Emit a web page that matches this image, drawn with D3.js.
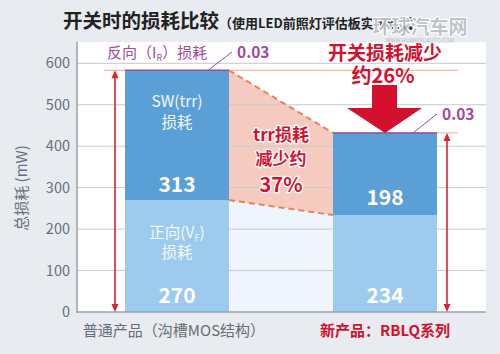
<!DOCTYPE html>
<meta charset="utf-8">
<head>
  <style>
    body { margin: 0; background: #e8ecf0; }
    text { font-family: "Noto Sans CJK SC", sans-serif; }
  </style>
</head>
<body>
<svg width="500" height="354"></svg>
<script src="https://d3js.org/d3.v7.min.js"></script>
<script>
  var products = ["普通产品（沟槽MOS结构）", "新产品：RBLQ系列"];
  var forwardLoss = [270, 234];   // 正向(VF)损耗
  var swLoss = [313, 198];        // SW(trr)损耗
  var reverseLoss = [0.03, 0.03]; // 反向(IR)损耗
  var yTicks = [0, 100, 200, 300, 400, 500, 600];

  var red = "#d4102f", purple = "#a24a9e";

  var svg = d3.select("svg");
  svg.append("rect").attr("width", 500).attr("height", 354).attr("fill", "#e8ecf0");

  var x = d3.scaleBand().domain(products).range([73, 489]).paddingInner(0.5).paddingOuter(0.25);
  var y = d3.scaleLinear().domain([0, 600]).range([312, 63.3]);

  var plotL = 77, plotR = 486, plotT = 42;
  svg.append("rect").attr("x", plotL).attr("y", plotT)
    .attr("width", plotR - plotL).attr("height", y(0) - plotT).attr("fill", "#fff");

  var totals = products.map(function(p, i) { return forwardLoss[i] + swLoss[i] + reverseLoss[i]; });
  var b0 = x(products[0]) + x.bandwidth(), b1 = x(products[1]);

  // shaded regions between bars
  svg.append("path").attr("fill", "#eef5fd")
    .attr("d", d3.line()([[b0, y(forwardLoss[0])], [b1, y(forwardLoss[1])], [b1, y(0)], [b0, y(0)]]));
  svg.append("path").attr("fill", "#f6cbbf")
    .attr("d", d3.line()([[b0, y(totals[0])], [b1, y(totals[1])], [b1, y(forwardLoss[1])], [b0, y(forwardLoss[0])]]));

  // grid
  svg.append("g").selectAll("line").data(yTicks.slice(1)).join("line")
    .attr("x1", plotL).attr("x2", plotR)
    .attr("y1", function(d) { return y(d); }).attr("y2", function(d) { return y(d); })
    .attr("stroke", "#c5cad0").attr("stroke-width", 1);

  // dashed trend lines
  [totals, forwardLoss].forEach(function(s) {
    svg.append("line")
      .attr("x1", b0).attr("y1", y(s[0])).attr("x2", b1).attr("y2", y(s[1]))
      .attr("stroke", "#e8825f").attr("stroke-width", 2).attr("stroke-dasharray", "6,4");
  });

  // reference lines at totals
  svg.append("line").attr("x1", 104).attr("x2", 458).attr("y1", y(totals[0])).attr("y2", y(totals[0]))
    .attr("stroke", "#f0a898").attr("stroke-width", 1);
  svg.append("line").attr("x1", b1).attr("x2", 458).attr("y1", y(totals[1])).attr("y2", y(totals[1]))
    .attr("stroke", "#f0a898").attr("stroke-width", 1);

  // bars
  var bars = svg.append("g");
  products.forEach(function(p, i) {
    bars.append("rect").attr("x", x(p)).attr("width", x.bandwidth())
      .attr("y", y(forwardLoss[i])).attr("height", y(0) - y(forwardLoss[i])).attr("fill", "#9dcbee");
    bars.append("rect").attr("x", x(p)).attr("width", x.bandwidth())
      .attr("y", y(totals[i])).attr("height", y(forwardLoss[i]) - y(totals[i])).attr("fill", "#5a9fd6");
    bars.append("line").attr("x1", x(p)).attr("x2", x(p) + x.bandwidth())
      .attr("y1", y(totals[i])).attr("y2", y(totals[i])).attr("stroke", purple).attr("stroke-width", 1.5);
  });

  // axes
  svg.append("line").attr("x1", plotL).attr("x2", plotL).attr("y1", plotT).attr("y2", y(0) + 1)
    .attr("stroke", "#9aa0a6").attr("stroke-width", 1.5);
  svg.append("line").attr("x1", plotL).attr("x2", plotR).attr("y1", y(0)).attr("y2", y(0))
    .attr("stroke", "#9aa0a6").attr("stroke-width", 1.5);
  svg.append("g").selectAll("text").data(yTicks).join("text")
    .attr("x", 70).attr("y", function(d) { return y(d) + 5; })
    .attr("text-anchor", "end").attr("font-size", 14.5).attr("fill", "#66707a")
    .text(function(d) { return d; });
  svg.append("text").attr("transform", "translate(27,188) rotate(-90)")
    .attr("text-anchor", "middle").attr("font-size", 15).attr("fill", "#66707a").text("总损耗 (mW)");

  // x labels
  svg.append("text").attr("x", x(products[0]) + x.bandwidth() / 2 - 3).attr("y", 336)
    .attr("text-anchor", "middle").attr("font-size", 15).attr("fill", "#666c72").text("普通产品（沟槽MOS结构）");
  svg.append("text").attr("x", x(products[1]) + x.bandwidth() / 2).attr("y", 336)
    .attr("text-anchor", "middle").attr("font-size", 15).attr("font-weight", "bold").attr("fill", red)
    .text("新产品：RBLQ系列");

  // texts inside bars
  function inner(cx, yy, txt, size, bold) {
    return svg.append("text").attr("x", cx).attr("y", yy).attr("text-anchor", "middle")
      .attr("font-size", size).attr("font-weight", bold ? "bold" : "normal")
      .attr("fill", bold ? "#fff" : "#f2f8fd").text(txt);
  }
  var c0 = x(products[0]) + x.bandwidth() / 2, c1 = x(products[1]) + x.bandwidth() / 2;
  inner(c0, 107, "SW(trr)", 15.5);
  inner(c0, 128, "损耗", 15.5);
  inner(c0, 192, swLoss[0], 21, true);
  var vf = inner(c0, 238, "正向(V", 15.5);
  vf.append("tspan").attr("font-size", 9).attr("dy", 3).text("F");
  vf.append("tspan").attr("dy", -3).text(")");
  inner(c0, 258, "损耗", 15.5);
  inner(c0, 303, forwardLoss[0], 21, true);
  inner(c1, 205, swLoss[1], 21, true);
  inner(c1, 303, forwardLoss[1], 21, true);

  // reverse loss callouts
  var ir = svg.append("text").attr("x", 107).attr("y", 58).attr("font-size", 15).attr("fill", purple).text("反向（I");
  ir.append("tspan").attr("font-size", 9).attr("dy", 3).text("R");
  ir.append("tspan").attr("dy", -3).text("）损耗");
  svg.append("line").attr("x1", 208).attr("y1", y(totals[0])).attr("x2", 232).attr("y2", 52)
    .attr("stroke", purple).attr("stroke-width", 1);
  svg.append("text").attr("x", 237).attr("y", 58).attr("font-size", 15.5).attr("font-weight", "bold")
    .attr("fill", purple).text(reverseLoss[0].toFixed(2));
  svg.append("line").attr("x1", 413).attr("y1", y(totals[1])).attr("x2", 437).attr("y2", 114)
    .attr("stroke", purple).attr("stroke-width", 1);
  svg.append("text").attr("x", 442).attr("y", 120).attr("font-size", 15.5).attr("font-weight", "bold")
    .attr("fill", purple).text(reverseLoss[1].toFixed(2));

  // double arrows
  function dblArrow(ax, y1, y2) {
    svg.append("line").attr("x1", ax).attr("x2", ax).attr("y1", y1 + 4).attr("y2", y2 - 4)
      .attr("stroke", "#d8252f").attr("stroke-width", 1.6);
    svg.append("path").attr("fill", "#d8252f")
      .attr("d", "M" + ax + "," + y1 + "l-3.5,8h7z M" + ax + "," + y2 + "l-3.5,-8h7z");
  }
  dblArrow(115, y(totals[0]), y(0));
  dblArrow(447, y(totals[1]), y(0));

  // big arrow
  var tip = y(totals[1]);
  svg.append("path").attr("fill", red)
    .attr("d", "M" + (c1 - 13) + ",85 h25 v23 h25 L" + c1 + "," + tip + " L" + (c1 - 38) + ",108 h25 z");

  svg.append("text").attr("x", c1).attr("y", 60).attr("text-anchor", "middle").attr("font-size", 19)
    .attr("font-weight", "bold").attr("fill", red).text("开关损耗减少");
  svg.append("text").attr("x", c1 - 2).attr("y", 83).attr("text-anchor", "middle").attr("font-size", 20)
    .attr("font-weight", "bold").attr("fill", red).text("约26%");

  var trr = [["trr损耗", 141, 17], ["减少约", 165, 17], ["37%", 192, 20]];
  trr.forEach(function(t) {
    svg.append("text").attr("x", 281).attr("y", t[1]).attr("text-anchor", "middle")
      .attr("font-size", t[2]).attr("font-weight", "bold").attr("fill", red)
      .attr("stroke", "#fff").attr("stroke-width", 2.5).attr("paint-order", "stroke").text(t[0]);
  });

  // title
  var title = svg.append("text").attr("x", 63).attr("y", 28).attr("font-weight", "bold").attr("fill", "#222");
  title.append("tspan").attr("font-size", 19.5).text("开关时的损耗比较");
  title.append("tspan").attr("font-size", 13).text("（使用LED前照灯评估板实施测试）");

  // watermark
  svg.append("text").attr("x", 420).attr("y", 34).attr("text-anchor", "middle").attr("font-size", 19)
    .attr("font-weight", "bold").attr("fill", "#8a9099").attr("fill-opacity", 0.55)
    .attr("stroke", "#fff").attr("stroke-width", 2).attr("paint-order", "stroke").text("环球汽车网");
  svg.append("text").attr("x", 420).attr("y", 43).attr("text-anchor", "middle").attr("font-size", 5.5)
    .attr("fill", "#8a9099").attr("fill-opacity", 0.6).text("WWW.HUANQIUAUTO.COM");
</script>
</body>
</html>
